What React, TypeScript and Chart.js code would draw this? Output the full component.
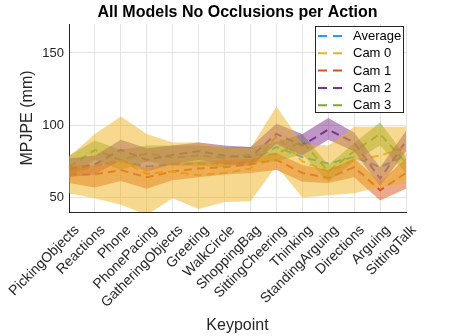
import React, { useEffect, useRef } from 'react';
import { Chart, registerables } from 'chart.js';

Chart.register(...registerables);

const categories = [
  'PickingObjects', 'Reactions', 'Phone', 'PhonePacing', 'GatheringObjects', 'Greeting',
  'WalkCircle', 'ShoppingBag', 'SittingCheering', 'Thinking', 'StandingArguing',
  'Directions', 'Arguing', 'SittingTalk',
];
const yTicks = [50, 100, 150];

const average = [68.5, 72.5, 75, 71.5, 73, 73.5, 73.5, 74.5, 85, 78, 73.5, 78, 71, 79];
const cam0 = [66, 72, 75.5, 66.5, 68, 65.5, 67, 70, 92.5, 75, 68, 76, 79, 85];
const cam1 = [66, 66, 69, 64, 68, 70, 71, 73, 76, 67, 63.5, 71, 55, 67];
const cam2 = [70, 73, 83, 76, 79.5, 82, 79, 78, 94, 86, 97, 88, 63, 89];
const cam3 = [71, 83, 76, 80.5, 77.5, 79, 77.5, 79.5, 80, 89, 68, 82, 94, 74];

const cam0Upper = [78, 94, 106, 94, 88, 88, 85, 84, 113, 87, 86, 99, 99, 99];
const cam0Lower = [53, 49.5, 45, 38, 49.5, 42, 47, 47.5, 72, 50, 51.5, 53, 57.5, 60];
const cam1Upper = [72, 72, 76, 70, 74, 75, 76, 77, 81, 72.5, 69, 77, 61, 77];
const cam1Lower = [60, 57, 61.5, 56, 62, 64, 66, 67, 69, 61, 60, 64, 48, 56];
const cam2Upper = [77, 79, 90, 84, 86, 88, 86, 85, 101, 94, 105, 95, 71, 96];
const cam2Lower = [64, 66, 76, 68, 73, 76, 73, 72, 87, 79, 90, 82, 58, 82];
const cam3Upper = [79, 89.5, 83, 86, 86, 86, 85, 85, 88.5, 94, 72.5, 87.5, 102, 78];
const cam3Lower = [64, 76, 69, 75, 72, 72, 71, 74, 75, 80, 61, 75, 86, 67];

const seriesLabels = ['Average', 'Cam 0', 'Cam 1', 'Cam 2', 'Cam 3'];
const seriesColors = ['#1FA2F0', '#EDB120', '#D95319', '#7E2F8E', '#77AC30'];
const bandColors = [
  'rgba(237,177,32,0.5)',
  'rgba(217,83,25,0.5)',
  'rgba(126,47,142,0.5)',
  'rgba(119,172,48,0.5)',
];

const FONT = '"Liberation Sans", Arial, Helvetica, sans-serif';
const AXIS = '#262626';
const GRID = '#e3e3e3';

const boxLegend = {
  id: 'boxLegend',
  afterDatasetsDraw(chart: any) {
    const { ctx, chartArea } = chart;
    const w = 89;
    const h = 87;
    const x0 = chartArea.right - w - 2;
    const y0 = chartArea.top + 2;
    ctx.save();
    ctx.fillStyle = '#ffffff';
    ctx.fillRect(x0, y0, w, h);
    ctx.strokeStyle = AXIS;
    ctx.lineWidth = 1;
    ctx.strokeRect(x0 + 0.5, y0 + 0.5, w - 1, h - 1);
    const entries = chart.data.datasets
      .filter((d: any) => d.isSeries)
      .sort((a: any, b: any) => a.legendOrder - b.legendOrder);
    entries.forEach((d: any, i: number) => {
      const y = y0 + 10 + i * 17.3;
      ctx.strokeStyle = d.borderColor;
      ctx.lineWidth = 2;
      ctx.setLineDash([9, 6]);
      ctx.beginPath();
      ctx.moveTo(x0 + 3, y);
      ctx.lineTo(x0 + 27, y);
      ctx.stroke();
      ctx.setLineDash([]);
      ctx.fillStyle = '#000000';
      ctx.font = '13px ' + FONT;
      ctx.textBaseline = 'middle';
      ctx.textAlign = 'left';
      ctx.fillText(d.label, x0 + 38, y + 0.5);
    });
    ctx.restore();
  },
};

export default function App() {
  const ref = useRef<HTMLCanvasElement>(null);

  useEffect(() => {
    if (!ref.current) return;
    Chart.defaults.font.family = FONT;

    const uppers = [cam0Upper, cam1Upper, cam2Upper, cam3Upper];
    const lowers = [cam0Lower, cam1Lower, cam2Lower, cam3Lower];
    const bandSets: any[] = [];
    uppers.forEach((u, i) => {
      bandSets.push({
        label: seriesLabels[i + 1] + ' upper',
        data: u,
        borderWidth: 0,
        borderColor: 'rgba(0,0,0,0)',
        pointRadius: 0,
        fill: false,
        tension: 0,
      });
      bandSets.push({
        label: seriesLabels[i + 1] + ' lower',
        data: lowers[i],
        borderWidth: 0,
        borderColor: 'rgba(0,0,0,0)',
        backgroundColor: bandColors[i],
        pointRadius: 0,
        fill: '-1',
        tension: 0,
      });
    });

    const lineData = [average, cam0, cam1, cam2, cam3];
    const lineSets = lineData.map((d, i) => ({
      label: seriesLabels[i],
      data: d,
      isSeries: true,
      legendOrder: i,
      borderColor: seriesColors[i],
      backgroundColor: seriesColors[i],
      borderWidth: 2,
      borderDash: [8, 5],
      pointRadius: 0,
      fill: false,
      tension: 0,
    }));
    // draw cams first, average on top
    const orderedLines = [...lineSets.slice(1), lineSets[0]];

    const chart = new Chart(ref.current, {
      type: 'line',
      data: {
        labels: categories,
        datasets: [...bandSets, ...orderedLines] as any,
      },
      options: {
        animation: false,
        responsive: false,
        devicePixelRatio: 1,
        layout: { padding: { left: 0, right: 43, top: 0, bottom: 0 } },
        plugins: {
          legend: { display: false },
          tooltip: { enabled: false },
          title: {
            display: true,
            text: 'All Models No Occlusions per Action',
            color: '#000000',
            fullSize: false,
            font: { size: 16, weight: 'bold', family: FONT },
            padding: { top: 3, bottom: 1.8 },
          },
        },
        scales: {
          x: {
            type: 'category',
            offset: false,
            grid: { color: GRID, drawTicks: false },
            border: { color: AXIS, width: 1 },
            ticks: {
              autoSkip: false,
              minRotation: 45,
              maxRotation: 45,
              color: AXIS,
              padding: 10,
              labelOffset: 8,
              font: { size: 14, family: FONT },
            },
            title: {
              display: true,
              text: 'Keypoint',
              color: AXIS,
              font: { size: 16, family: FONT },
              padding: { top: 0, bottom: 1 },
            },
            afterFit: (scale: any) => {
              scale.height = 124;
              scale.paddingLeft = 0;
              scale.paddingRight = 0;
            },
          },
          y: {
            type: 'linear',
            min: 40,
            max: 170,
            grid: { color: GRID, drawTicks: false },
            border: { color: AXIS, width: 1 },
            ticks: {
              color: AXIS,
              padding: 5,
              font: { size: 13, family: FONT },
            },
            afterBuildTicks: (scale: any) => {
              scale.ticks = yTicks.map((v) => ({ value: v }));
            },
            title: {
              display: true,
              text: 'MPJPE (mm)',
              color: AXIS,
              font: { size: 16, family: FONT },
              padding: { top: 18, bottom: 0 },
            },
            afterFit: (scale: any) => {
              scale.width = 69;
            },
          },
        },
      } as any,
      plugins: [boxLegend],
    });

    return () => chart.destroy();
  }, []);

  return (
    <div style={{ position: 'fixed', left: 0, top: 0, width: 449, height: 336, background: '#fff' }}>
      <canvas ref={ref} width={449} height={336} style={{ display: 'block' }} />
    </div>
  );
}
